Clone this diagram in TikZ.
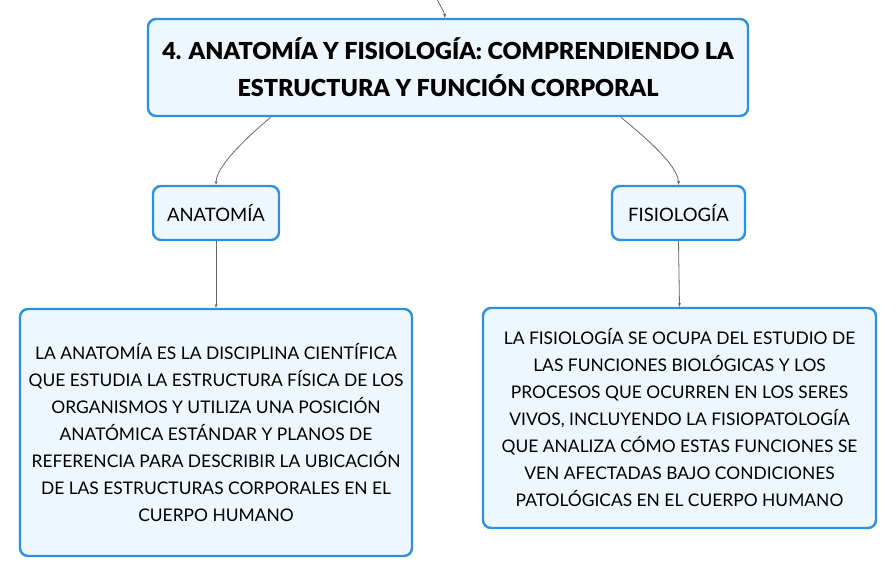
\documentclass[tikz,border=0pt]{standalone}
\usepackage{fontspec}
\setmainfont{Lato}
\newfontfamily\titlefont{Lato Black}
\usepackage{tikz}
\usetikzlibrary{positioning,arrows.meta,calc}
\definecolor{boxline}{HTML}{2E8FDC}
\definecolor{boxfill}{HTML}{EEF7FD}
\definecolor{linkgray}{HTML}{666666}

\begin{document}
\begin{tikzpicture}[
x=1pt, y=-1pt,
basebox/.style={
  draw=boxline,
  fill=boxfill,
  line width=2.4pt,
  rounded corners=8pt,
  align=center,
  inner sep=0pt},
mainbox/.style={
  basebox,
  minimum width=600pt,
  minimum height=97pt,
  font=\fontsize{23.4}{37}\titlefont},
topicbox/.style={
  basebox,
  minimum height=54pt,
  font=\fontsize{18.5}{27}\selectfont},
textbox/.style={
  basebox,
  font=\fontsize{17.4}{27}\selectfont},
link/.style={
  draw=linkgray,
  line width=0.8pt,
  -{Stealth[length=4pt,width=3pt]}}
]
\useasboundingbox (0,0) rectangle (896,577);
\node[mainbox] (main) at (448,67.5)
  {4. ANATOMÍA Y FISIOLOGÍA: COMPRENDIENDO LA\\ESTRUCTURA Y FUNCIÓN CORPORAL};
\node[topicbox, minimum width=126pt] (anat) at (216,213) {ANATOMÍA};
\node[topicbox, minimum width=133pt] (fisio) at (678.5,213) {FISIOLOGÍA};
\node[textbox, minimum width=392pt, minimum height=247pt] (anattext) at (216,432.5)
  {LA ANATOMÍA ES LA DISCIPLINA CIENTÍFICA\\
   QUE ESTUDIA LA ESTRUCTURA FÍSICA DE LOS\\
   ORGANISMOS Y UTILIZA UNA POSICIÓN\\
   ANATÓMICA ESTÁNDAR Y PLANOS DE\\
   REFERENCIA PARA DESCRIBIR LA UBICACIÓN\\
   DE LAS ESTRUCTURAS CORPORALES EN EL\\
   CUERPO HUMANO};
\node[textbox, minimum width=393pt, minimum height=220pt] (fisiotext) at (679.5,418)
  {LA FISIOLOGÍA SE OCUPA DEL ESTUDIO DE\\
   LAS FUNCIONES BIOLÓGICAS Y LOS\\
   PROCESOS QUE OCURREN EN LOS SERES\\
   VIVOS, INCLUYENDO LA FISIOPATOLOGÍA\\
   QUE ANALIZA CÓMO ESTAS FUNCIONES SE\\
   VEN AFECTADAS BAJO CONDICIONES\\
   PATOLÓGICAS EN EL CUERPO HUMANO};
\coordinate (parent) at (437,-2);
% links
\draw[link] (parent) to[out=-75,in=97] ([xshift=-3pt]main.north);
\draw[link] ([xshift=124pt]main.south west) to[out=-140,in=90,looseness=0.6] (anat.north);
\draw[link] ([xshift=474pt]main.south west) to[out=-40,in=90,looseness=0.6] (fisio.north);
\draw[link] (anat.south) -- (anattext.north);
\draw[link] (fisio.south) -- (fisiotext.north);
\end{tikzpicture}
\end{document}
